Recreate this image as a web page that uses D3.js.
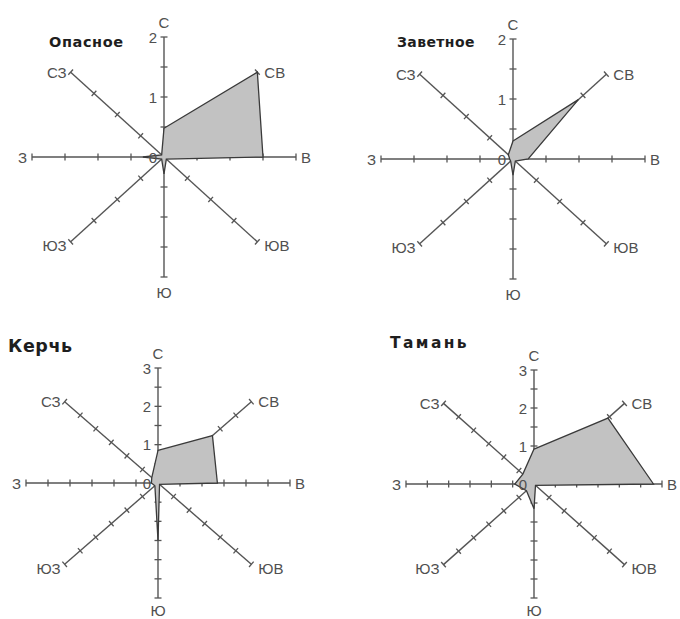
<!DOCTYPE html>
<html>
<head>
<meta charset="utf-8">
<script src="https://cdn.jsdelivr.net/npm/d3@7"></script>
<style>
  body { margin: 0; background: #fff; }
  svg { display: block; font-family: "Liberation Sans", Arial, sans-serif; }
  .spoke { stroke: #555; stroke-width: 1.4; fill: none; }
  .tick { stroke: #555; stroke-width: 1.3; }
  .dir-label { fill: #505050; font-size: 15px; }
  .val-label { fill: #505050; font-size: 15px; }
  .title { fill: #1e1e1e; font-weight: bold; font-family: "DejaVu Sans", sans-serif; }
  .area { fill: #c2c2c2; stroke: #3a3a3a; stroke-width: 1.3; stroke-linejoin: miter; }
</style>
</head>
<body>
<svg id="chart" width="680" height="619"></svg>
<script>
/* =======================
   DATA
======================= */
const directions = ["С", "СВ", "В", "ЮВ", "Ю", "ЮЗ", "З", "СЗ"];
const stations = ["Опасное", "Заветное", "Керчь", "Тамань"];

// values per direction, clockwise from north
const opasnoe  = [0.48, 2.0, 1.5, 0.05, 0.28, 0.05, 0.32, 0.05];
const zavetnoe = [0.30, 1.4, 0.23, 0.05, 0.27, 0.05, 0.05, 0.10];
const kerch    = [0.85, 1.75, 1.35, 0.05, 1.5, 0.10, 0.15, 0.20];
const taman    = [0.92, 2.45, 2.8, 0.05, 0.65, 0.25, 0.45, 0.37];

const seriesValues = [opasnoe, zavetnoe, kerch, taman];
const axisMax = [2, 2, 3, 3];

/* =======================
   LAYOUT
======================= */
const panels = [
    { cx: 164, cy: 157, rx: 132, ry: 120, tx: 49,  ty: 47,  fs: 14.5, ls: 0.6, sGap: 15 },
    { cx: 513, cy: 159, rx: 132, ry: 120, tx: 397, ty: 47,  fs: 14,   ls: 0.4, sGap: 15 },
    { cx: 158, cy: 483, rx: 132, ry: 115, tx: 8,   ty: 352, fs: 17.5, ls: 0.6, sGap: 12 },
    { cx: 534, cy: 484, rx: 128, ry: 114, tx: 390, ty: 348, fs: 15.5, ls: 2.4, sGap: 12 }
];

const svg = d3.select("#chart");

const drawPanel = (p, i) => {
    const values = seriesValues[i];
    const max = axisMax[i];
    const g = svg.append("g").attr("transform", `translate(${p.cx},${p.cy})`);

    const rX = d3.scaleLinear().domain([0, max]).range([0, p.rx]);
    const rY = d3.scaleLinear().domain([0, max]).range([0, p.ry]);
    const angle = d3.scaleLinear().domain([0, directions.length]).range([0, 2 * Math.PI]);

    const px = (k, v) => rX(v) * Math.sin(angle(k));
    const py = (k, v) => -rY(v) * Math.cos(angle(k));

    // polygon
    const line = d3.line()
        .x(d => px(d.k, d.v))
        .y(d => py(d.k, d.v))
        .curve(d3.curveLinearClosed);

    const pts = values.map((v, k) => ({ k, v }));

    // spokes
    g.selectAll(".spoke").data(directions).enter()
        .append("line")
        .attr("class", "spoke")
        .attr("x1", 0).attr("y1", 0)
        .attr("x2", (d, k) => px(k, max))
        .attr("y2", (d, k) => py(k, max));

    // ticks every 0.5
    const tickVals = rX.ticks(max * 2).filter(t => t > 0);
    directions.forEach((d, k) => {
        const a = angle(k);
        // unit perpendicular in screen space
        const dx = rX(1) * Math.sin(a), dy = -rY(1) * Math.cos(a);
        const len = Math.hypot(dx, dy);
        const nx = -dy / len, ny = dx / len;
        const half = 3.5;
        g.selectAll(`.tick-${k}`).data(tickVals).enter()
            .append("line")
            .attr("class", "tick")
            .attr("x1", t => px(k, t) - nx * half)
            .attr("y1", t => py(k, t) - ny * half)
            .attr("x2", t => px(k, t) + nx * half)
            .attr("y2", t => py(k, t) + ny * half);
    });

    g.append("path").datum(pts).attr("class", "area").attr("d", line);

    // value labels on north axis
    g.selectAll(".val-label").data(rY.ticks(max)).enter()
        .append("text")
        .attr("class", "val-label")
        .attr("x", -7)
        .attr("y", t => -rY(t))
        .attr("text-anchor", "end")
        .attr("dominant-baseline", "central")
        .text(t => t);

    // direction labels
    const labelPos = [
        { dx: 0,  dy: -15,    anchor: "middle" },
        { dx: 7,  dy: 0,      anchor: "start" },
        { dx: 5,  dy: 0,      anchor: "start" },
        { dx: 7,  dy: 4,      anchor: "start" },
        { dx: 0,  dy: p.sGap, anchor: "middle" },
        { dx: -4, dy: 4,      anchor: "end" },
        { dx: -5, dy: 0,      anchor: "end" },
        { dx: -4, dy: 0,      anchor: "end" }
    ];
    g.selectAll(".dir-label").data(directions).enter()
        .append("text")
        .attr("class", "dir-label")
        .attr("x", (d, k) => px(k, max) + labelPos[k].dx)
        .attr("y", (d, k) => py(k, max) + labelPos[k].dy)
        .attr("text-anchor", (d, k) => labelPos[k].anchor)
        .attr("dominant-baseline", "central")
        .text(d => d);

    // title
    svg.append("text")
        .attr("class", "title")
        .attr("x", p.tx)
        .attr("y", p.ty)
        .style("font-size", `${p.fs}px`)
        .style("letter-spacing", `${p.ls}px`)
        .text(stations[i]);
};

panels.forEach(drawPanel);
</script>
</body>
</html>
